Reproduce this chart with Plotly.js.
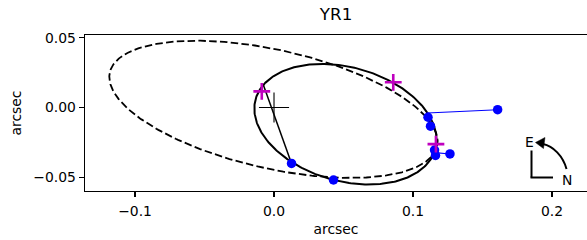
<!DOCTYPE html>
<html><head><meta charset="utf-8">
<script src="https://cdn.plot.ly/plotly-3.0.1.min.js"></script>
<style>html,body{margin:0;padding:0;background:#fff}#chart{width:587px;height:240px}</style>
</head><body><div id="chart"></div>
<script>
const chartTitle = 'YR1';
const axisLabel = 'arcsec';
const xTickVals = [-0.1, 0, 0.1, 0.2];
const xTickText = ['\u22120.1', '0.0', '0.1', '0.2'];
const yTickVals = [-0.05, 0, 0.05];
const yTickText = ['\u22120.05', '0.00', '0.05'];
// ellipses: [centerX, centerY, semiMajor, semiMinor, angleDeg]
const orbitEllipse = [0.0514, -0.0120, 0.0671, 0.0409, -15.6];
const dashedEllipse = [-0.0004, -0.0013, 0.1207, 0.0426, -12.7];
// line of nodes
const nodesX = [-0.0079, 0.0126];
const nodesY = [0.0169, -0.0402];
// observed positions
const obsX = [0.0126, 0.0428, 0.1108, 0.1126, 0.1155, 0.1162, 0.1266, 0.1609];
const obsY = [-0.0402, -0.0521, -0.0070, -0.0134, -0.0306, -0.0345, -0.0334, -0.0016];
// predicted positions on the orbit
const predX = [0.0122, 0.0430, 0.1105, 0.1140, 0.1160, 0.1155, 0.1158, 0.1101];
const predY = [-0.0398, -0.0516, -0.0060, -0.0140, -0.0300, -0.0335, -0.0324, -0.0039];
// magenta markers
const magX = [-0.0088, 0.0858, 0.1165];
const magY = [0.0116, 0.0181, -0.0263];
// primary
const primX = [0];
const primY = [0];

function ellipsePts(e) {
  const [cx, cy, a, b, ang] = e;
  const th = ang * Math.PI / 180;
  const xs = [], ys = [];
  for (let i = 0; i <= 360; i++) {
    const t = i * Math.PI / 180;
    const u = a * Math.cos(t), v = b * Math.sin(t);
    xs.push(cx + u * Math.cos(th) - v * Math.sin(th));
    ys.push(cy + u * Math.sin(th) + v * Math.cos(th));
  }
  return [xs, ys];
}
const [dx, dy] = ellipsePts(dashedEllipse);
const [ox, oy] = ellipsePts(orbitEllipse);
const resX = [], resY = [];
for (let i = 0; i < obsX.length; i++) {
  resX.push(obsX[i], predX[i], null);
  resY.push(obsY[i], predY[i], null);
}
const F = 'DejaVu Sans';
const traces = [
  {x: dx, y: dy, mode: 'lines', line: {color: 'black', width: 1.8, dash: '7.5px,3.3px'}, hoverinfo: 'skip'},
  {x: ox, y: oy, mode: 'lines', line: {color: 'black', width: 2}, hoverinfo: 'skip'},
  {x: nodesX, y: nodesY, mode: 'lines', line: {color: 'black', width: 1.5}},
  {x: resX, y: resY, mode: 'lines', line: {color: '#0000ff', width: 1.1}},
  {x: obsX, y: obsY, mode: 'markers', marker: {color: '#0000ff', size: 9.5}},
  {x: magX, y: magY, mode: 'markers', marker: {symbol: 'cross-thin', size: 12, line: {color: '#bf00bf', width: 2.6}}},
  {x: primX, y: primY, mode: 'markers', marker: {symbol: 'cross-thin', size: 21.5, line: {color: 'black', width: 1.1}}}
];
const P = (px, py) => [(px - 85) / 502, (191 - py) / 156];
const pt = (px, py) => { const p = P(px, py); return p[0].toFixed(4) + ',' + p[1].toFixed(4); };
const shapes = [
  {type: 'line', xref: 'paper', yref: 'paper', x0: P(531.5,150.5)[0], y0: P(531.5,150.5)[1], x1: P(531.5,177.5)[0], y1: P(531.5,177.5)[1], line: {color: 'black', width: 2}},
  {type: 'line', xref: 'paper', yref: 'paper', x0: P(530.5,177.5)[0], y0: P(530.5,177.5)[1], x1: P(553,177.5)[0], y1: P(553,177.5)[1], line: {color: 'black', width: 2}},
  {type: 'path', xref: 'paper', yref: 'paper', path: 'M' + pt(566.5,169) + ' C' + pt(563,156) + ' ' + pt(553,146) + ' ' + pt(543,144), line: {color: 'black', width: 2}},
  {type: 'path', xref: 'paper', yref: 'paper', path: 'M' + pt(535.5,142.5) + ' L' + pt(545,137.5) + ' L' + pt(543.5,148.5) + ' Z', fillcolor: 'black', line: {color: 'black', width: 0.5}}
];
const layout = {
  width: 587, height: 240,
  margin: {l: 85, r: 0, t: 35, b: 49},
  paper_bgcolor: 'white', plot_bgcolor: 'white',
  showlegend: false,
  font: {family: F, size: 13.9, color: 'black'},
  title: {text: chartTitle, font: {family: F, size: 16.7, color: 'black'}, x: 0.5725, xanchor: 'center', yref: 'container', y: 0.94, yanchor: 'middle'},
  xaxis: {range: [-0.136, 0.2252], showline: true, mirror: true, linecolor: 'black', linewidth: 1.3,
    ticks: 'outside', ticklen: 5, tickwidth: 1.1, tickcolor: 'black', tickvals: xTickVals, ticktext: xTickText,
    showgrid: false, zeroline: false, tickfont: {family: F, size: 13.9}, ticklabelstandoff: 2,
    title: {text: axisLabel, font: {family: F, size: 13.9}, standoff: 6}},
  yaxis: {range: [-0.0600, 0.0521], showline: true, mirror: false, linecolor: 'black', linewidth: 1.3,
    ticks: 'outside', ticklen: 5, tickwidth: 1.1, tickcolor: 'black', tickvals: yTickVals, ticktext: yTickText,
    showgrid: false, zeroline: false, tickfont: {family: F, size: 13.9},
    title: {text: axisLabel, font: {family: F, size: 13.9}, standoff: 8}},
  shapes: shapes,
  annotations: [
    {xref: 'paper', yref: 'paper', x: P(529.7,141.7)[0], y: P(529.7,141.7)[1], text: 'E', showarrow: false, xanchor: 'center', yanchor: 'middle', font: {family: F, size: 13.9, color: 'black'}},
    {xref: 'paper', yref: 'paper', x: P(567,180)[0], y: P(567,180)[1], text: 'N', showarrow: false, xanchor: 'center', yanchor: 'middle', font: {family: F, size: 13.9, color: 'black'}}
  ]
};
Plotly.newPlot('chart', traces, layout, {displayModeBar: false, staticPlot: true});
</script>
</body></html>
